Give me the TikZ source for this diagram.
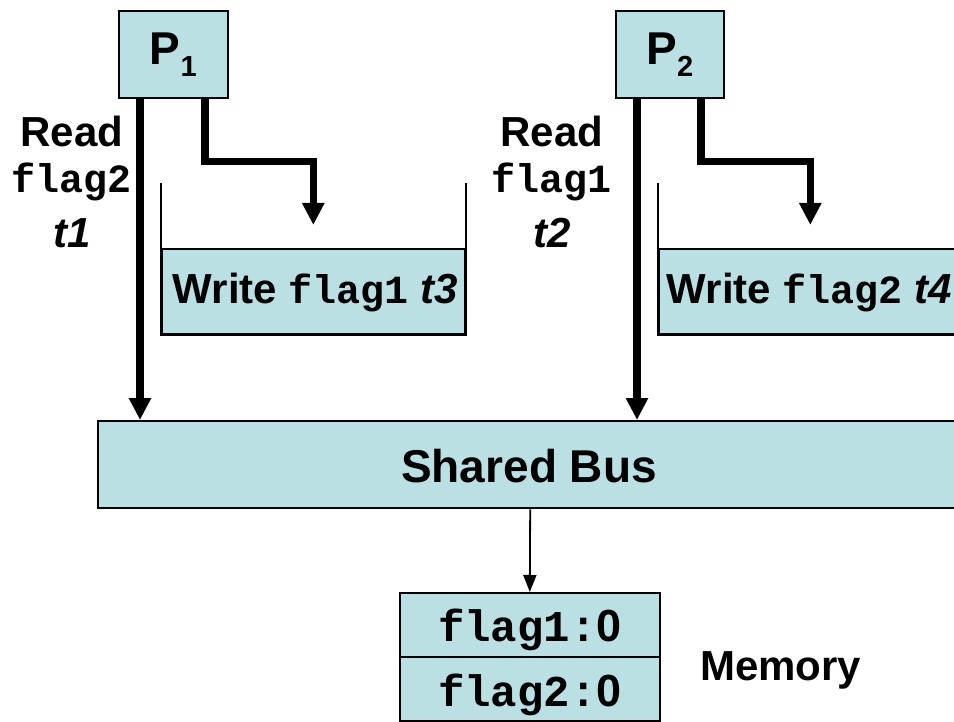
\documentclass[tikz,border=0pt]{standalone}
\usepackage{fontspec}
\setmainfont{Liberation Sans}
\setmonofont{Liberation Mono}
\usetikzlibrary{arrows.meta,calc}
\definecolor{boxfill}{HTML}{BBE0E3}
\newcommand\cw[1]{{\fontsize{40}{48}\selectfont\ttfamily\bfseries #1}}
\newcommand\cwbig[1]{{\fontsize{44}{48}\selectfont\ttfamily\bfseries #1}}
\newcommand\procname[1]{P\raisebox{-12pt}{\fontsize{29}{32}\selectfont #1}}
\tikzset{
  unitbox/.style={draw=black, line width=1.6pt, fill=boxfill, inner sep=0pt, anchor=north west},
  fatarrow/.style={line width=7.5pt, line join=miter, -{Triangle[length=22pt,width=21pt]}},
  thinarrow/.style={line width=1.8pt, -{Triangle[length=17pt,width=13pt]}},
  wall/.style={line width=2pt},
  lbl/.style={font=\fontsize{42}{50}\selectfont\bfseries, inner sep=0pt, anchor=base},
}
\begin{document}
\begin{tikzpicture}[x=1pt, y=-1pt]
  \useasboundingbox (0,0) rectangle (954,722);
  \clip (0,0) rectangle (954,722);

  % processors
  \node[unitbox, minimum width=109pt, minimum height=87pt,
        font=\fontsize{46}{50}\selectfont\bfseries] (P1) at (118,10) {\procname{1}};
  \node[unitbox, minimum width=108pt, minimum height=87pt,
        font=\fontsize{46}{50}\selectfont\bfseries] (P2) at (615,10) {\procname{2}};

  % write buffers (open-topped containers)
  \node[unitbox, minimum width=303pt, minimum height=85pt] (wb1) at (161,248) {};
  \node[unitbox, minimum width=303pt, minimum height=85pt] (wb2) at (658,248) {};
  \foreach \w in {wb1,wb2}{
    \draw[wall] ([yshift=65pt]\w.north west) -- (\w.south west)
                -- (\w.south east) -- ([yshift=65pt]\w.north east);
  }
  \node[lbl] at ([yshift=31pt,xshift=2pt]wb1.south) {Write \cw{flag1} \textit{t3}};
  \node[lbl] at ([yshift=31pt,xshift=-1pt]wb2.south) {Write \cw{flag2} \textit{t4}};

  % shared bus
  \node[unitbox, line width=2.4pt, minimum width=864pt, minimum height=87pt] (bus) at (97,420) {};
  \node[lbl, font=\fontsize{46}{50}\selectfont\bfseries] at (529,482) {Shared Bus};

  % memory
  \node[unitbox, minimum width=260pt, minimum height=64pt] (m1) at (399,592) {};
  \node[unitbox, minimum width=260pt, minimum height=64pt] (m2) at (399,656) {};
  \node[lbl, font=\fontsize{45}{50}\selectfont\bfseries] at ([yshift=16pt]m1.south) {\cwbig{flag1:}0};
  \node[lbl, font=\fontsize{45}{50}\selectfont\bfseries] at ([yshift=15pt]m2.south) {\cwbig{flag2:}0};
  \node[lbl, anchor=base west] at (700,680) {Memory};

  % read labels
  \node[lbl] at (72,147) {Read};
  \node[lbl] at (72,193) {\cw{flag2}};
  \node[lbl] at (72,248) {\textit{t1}};
  \node[lbl] at (552,147) {Read};
  \node[lbl] at (552,193) {\cw{flag1}};
  \node[lbl] at (552,248) {\textit{t2}};

  % read paths to the bus
  \coordinate (r1) at ([xshift=22pt]P1.south west);
  \coordinate (r2) at ([xshift=22pt]P2.south west);
  \draw[fatarrow] (r1) -- (r1 |- bus.north);
  \draw[fatarrow] (r2) -- (r2 |- bus.north);

  % write paths into the buffers
  \coordinate (w1) at ([xshift=87pt]P1.south west);
  \coordinate (w2) at ([xshift=86pt]P2.south west);
  \coordinate (t1) at ([yshift=23pt]wb1.north);
  \coordinate (t2) at ([yshift=23pt]wb2.north);
  \draw[fatarrow] (w1) -- ++(0,63) -| (t1);
  \draw[fatarrow] (w2) -- ++(0,63) -| (t2);

  % bus to memory
  \draw[thinarrow] (bus.south) -- (m1.north);
\end{tikzpicture}
\end{document}
